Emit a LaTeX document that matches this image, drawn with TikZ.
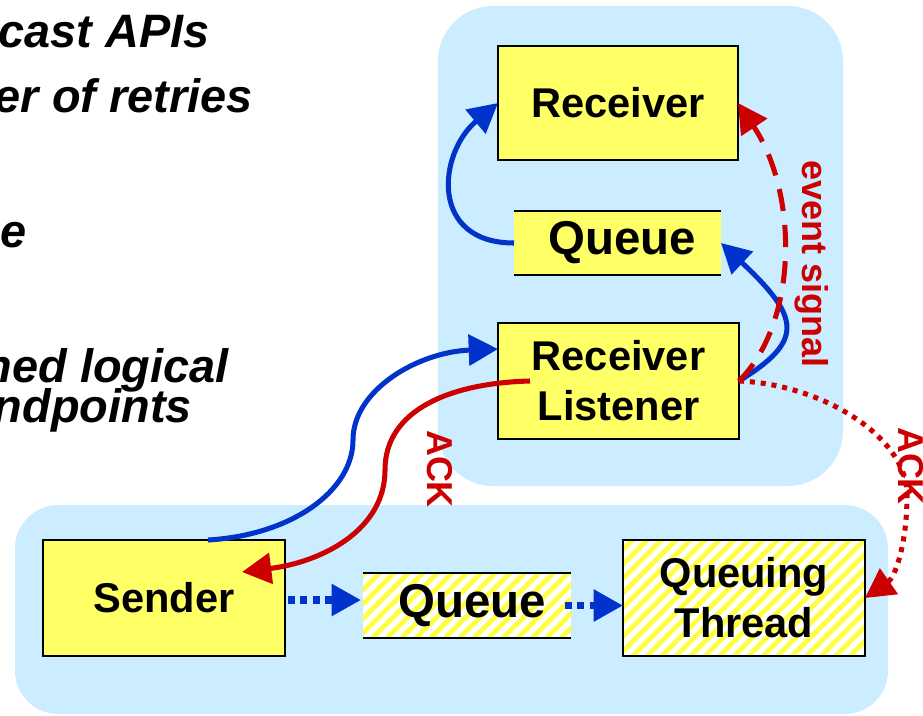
\documentclass[tikz,border=0pt]{standalone}
\usepackage{fontspec}
\setmainfont{Liberation Sans}
\usetikzlibrary{calc,arrows.meta}
\definecolor{bgblue}{HTML}{CCECFF}
\definecolor{boxyellow}{HTML}{FFFF66}
\definecolor{hatchyellow}{HTML}{FFFF40}
\definecolor{arrblue}{HTML}{0033CC}
\definecolor{arrred}{HTML}{CC0000}
\begin{document}
\begin{tikzpicture}[x=0.03cm, y=-0.03cm,
  boxfont/.style={font=\bfseries\fontsize{35.5}{42.7}\selectfont, align=center},
  qfont/.style={font=\bfseries\fontsize{40.5}{48}\selectfont},
  solidbox/.style={draw=black, line width=2.3pt, fill=boxyellow, inner sep=0pt, outer sep=0pt, boxfont},
  barbox/.style={fill=boxyellow, inner sep=0pt, outer sep=0pt, qfont},
  hatched/.style={fill=white, path picture={
      \foreach \k in {0,...,34}{
        \draw[line width=4pt, hatchyellow]
          ($(path picture bounding box.south west)+(\k*14.5-150,0)$) -- ++(170,-170);
      }}},
  barline/.style={draw=black, line width=2.3pt},
  arrowtip/.style={-{Triangle[length=25pt,width=26pt]}},
  blueflow/.style={draw=arrblue, line width=4.3pt, arrowtip},
  redflow/.style={draw=arrred, line width=4.3pt, arrowtip},
  reddash/.style={redflow, dash pattern=on 19pt off 12pt},
  reddot/.style={redflow, dash pattern=on 4.3pt off 5pt},
  bluedot/.style={blueflow, line width=6pt, dash pattern=on 6pt off 4.5pt},
  lbl/.style={text=arrred, font=\bfseries\fontsize{30.7}{36}\selectfont, rotate=-90, inner sep=0pt},
  sidetext/.style={font=\bfseries\itshape\fontsize{40}{48}\selectfont, anchor=base east, inner sep=0pt}
]
\useasboundingbox (0,0) rectangle (923,715);

% group backgrounds
\fill[bgblue, rounded corners=1.65cm] (438,6) rectangle (843,486);
\fill[bgblue, rounded corners=1.3cm] (15,505) rectangle (888,714);

% receiving side
\node[solidbox, minimum width=7.2cm, minimum height=3.42cm] (recv) at (618,103) {Receiver};
\node[barbox, minimum width=6.21cm, minimum height=1.92cm] (q1) at (617.5,243) {\hspace*{8.5pt}Queue};
\draw[barline] (q1.north west) -- (q1.north east);
\draw[barline] (q1.south west) -- (q1.south east);
\node[solidbox, minimum width=7.23cm, minimum height=3.48cm] (rl) at (618.5,381) {Receiver\\Listener};

% sending side
\node[solidbox, minimum width=7.26cm, minimum height=3.48cm] (sender) at (164,598) {Sender};
\node[barbox, hatched, minimum width=6.24cm, minimum height=1.95cm] (q2) at (467,605.5) {\hspace*{8.5pt}Queue};
\draw[barline] (q2.north west) -- (q2.north east);
\draw[barline] (q2.south west) -- (q2.south east);
\node[solidbox, hatched, minimum width=7.26cm, minimum height=3.48cm] (qt) at (744,598) {Queuing\\Thread};

% helper points for the S-shaped connectors
\coordinate (sendtop) at ($(sender.north)+(44,0)$);
\coordinate (bluemid) at (353,440);
\coordinate (rlin) at ($(rl.west)+(0,-32)$);
\coordinate (rlout) at ($(rl.west)+(32,0)$);
\coordinate (redmid) at (385,470);
\coordinate (sendack) at ($(sender.center)+(78,-26)$);
\coordinate (dotmid) at (907,495);

% message flow
\draw[blueflow] (q1.west) .. controls +(-85,0) and +(-60,50) .. (recv.west);
\draw[blueflow] (rl.east) .. controls +(65,-40) and +(80,75) .. (q1.east);
\draw[reddash] (rl.east) .. controls +(60,-60) and +(60,90) .. (recv.east);
\draw[blueflow] (sendtop) .. controls +(85,-5) and +(0,50) .. (bluemid)
  .. controls +(0,-50) and +(-80,3) .. (rlin);
\draw[redflow] (rlout) .. controls +(-80,2) and +(0,-60) .. (redmid)
  .. controls +(0,60) and +(80,-10) .. (sendack);
\draw[reddot] (rl.east) .. controls +(80,3) and +(0,-60) .. (dotmid)
  .. controls +(0,50) and +(30,-21) .. (qt.east);
\draw[bluedot] ($(sender.east)+(3,2)$) -- ($(q2.west)+(-2,-5.5)$);
\draw[bluedot] ($(q2.east)+(-6,0)$) -- (q2.east -| qt.west);

% connector labels
\node[lbl] (evsig) at (812,264) {event signal};
\node[lbl] (ack1) at (440,469) {ACK};
\node[lbl] (ack2) at (911,466) {ACK};

% bullet text on the left
\node[sidetext] (t1) at (210,47) {cast APIs};
\node[sidetext] (t2) at (253,112) {er of retries};
\node[sidetext] (t3) at (27,247) {e};
\node[sidetext] (t4) at (229,382) {ned logical};
\node[sidetext] (t5) at (192,422) {ndpoints};
\end{tikzpicture}
\end{document}
